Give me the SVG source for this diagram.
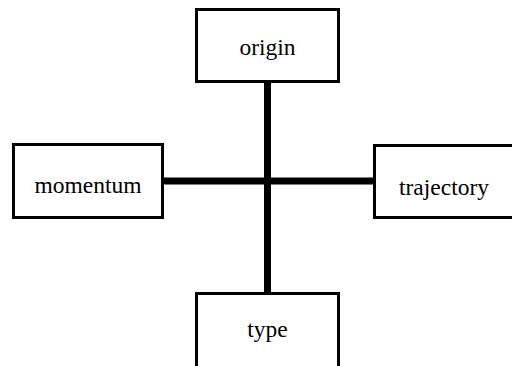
<svg xmlns="http://www.w3.org/2000/svg" width="512" height="366" viewBox="0 0 512 366">
<style>
.box{fill:#fff;stroke:#000;stroke-width:3}
.lbl{font-family:'Liberation Serif','Times New Roman',Times,serif;font-size:23.5px;fill:#000;text-anchor:middle;dominant-baseline:central}
.edge{stroke:#000;stroke-width:7;fill:none}
</style>
<rect width="512" height="366" fill="#fff"/>
<g id="connectors">
<line class="edge" x1="267.5" y1="82" x2="267.5" y2="293"/>
<line class="edge" x1="163" y1="181" x2="373" y2="181"/>
</g>
<g id="origin"><rect class="box" x="196.5" y="9.5" width="142" height="72"/><text class="lbl" x="267.5" y="47">origin</text></g>
<g id="momentum"><rect class="box" x="13.5" y="144.5" width="149" height="73"/><text class="lbl" x="88" y="185">momentum</text></g>
<g id="trajectory"><rect class="box" x="374.5" y="145.5" width="140" height="72"/><text class="lbl" x="444" y="187">trajectory</text></g>
<g id="type"><rect class="box" x="196.5" y="293.5" width="142" height="75"/><text class="lbl" x="267.5" y="329">type</text></g>
</svg>
